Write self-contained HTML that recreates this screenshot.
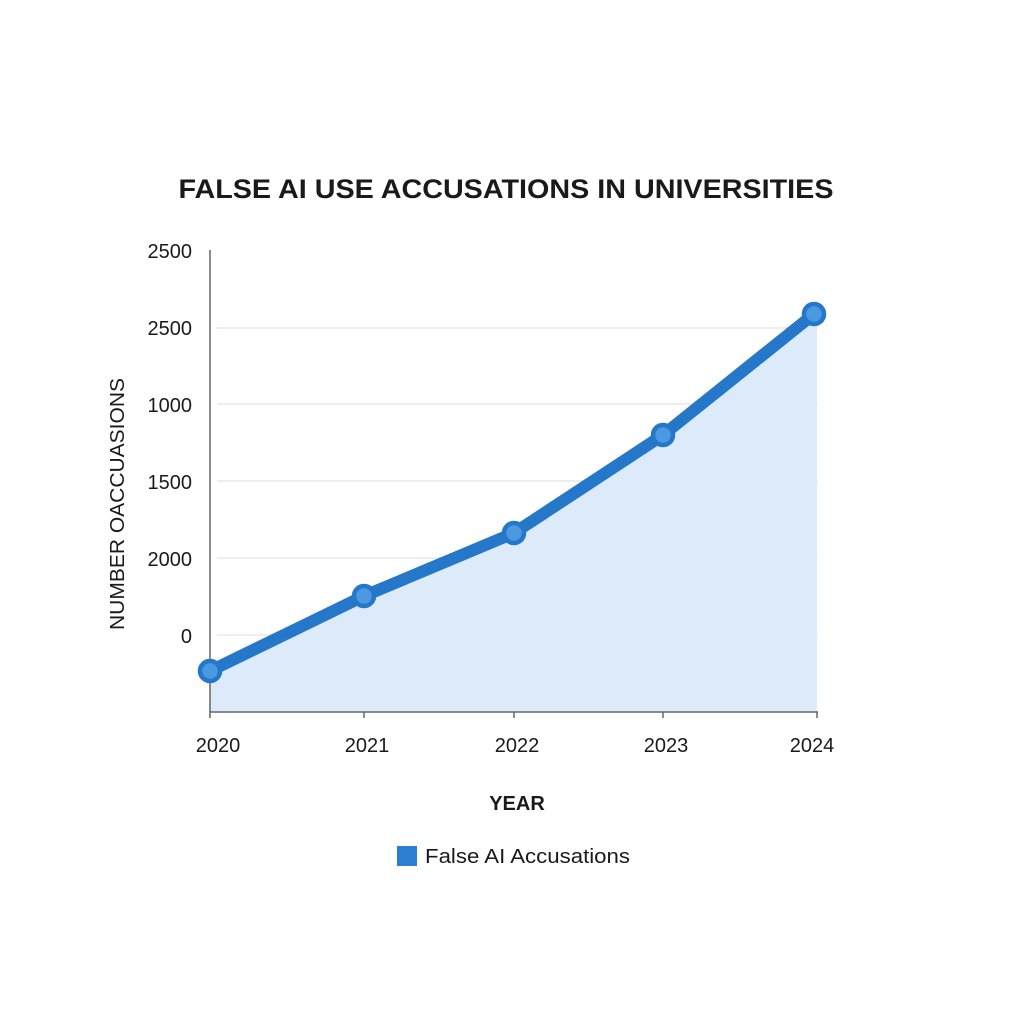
<!DOCTYPE html>
<html><head><meta charset="utf-8"><style>
html,body{margin:0;padding:0;background:#fff;}
svg{display:block;}
text{font-family:"Liberation Sans",sans-serif;fill:#1a1a1a;}
</style></head><body>
<svg width="1024" height="1024" viewBox="0 0 1024 1024" xmlns="http://www.w3.org/2000/svg">
<rect width="1024" height="1024" fill="#fff"/>
<text x="506" y="198" font-size="27" font-weight="bold" text-anchor="middle" textLength="655" lengthAdjust="spacingAndGlyphs">FALSE AI USE ACCUSATIONS IN UNIVERSITIES</text>
<g stroke="#e6e8ec" stroke-width="1.5">
<line x1="217" y1="328" x2="818" y2="328"/>
<line x1="217" y1="404" x2="818" y2="404"/>
<line x1="217" y1="481" x2="818" y2="481"/>
<line x1="217" y1="558" x2="818" y2="558"/>
<line x1="217" y1="635" x2="818" y2="635"/>
</g>
<polygon points="210,671 364,596 514,533 663,435 814,314 817,314 817,712 210,712" fill="#dceafa"/>
<line x1="210" y1="250" x2="210" y2="718" stroke="#666" stroke-width="1.5"/>
<line x1="210" y1="712" x2="818" y2="712" stroke="#666" stroke-width="1.5"/>
<g stroke="#666" stroke-width="1.5">
<line x1="364" y1="712" x2="364" y2="718"/><line x1="514" y1="712" x2="514" y2="718"/>
<line x1="663" y1="712" x2="663" y2="718"/><line x1="817" y1="712" x2="817" y2="718"/>
</g>
<polyline points="210,671 364,596 514,533 663,435 814,314" fill="none" stroke="#2477c9" stroke-width="12" stroke-linejoin="round"/>
<g fill="#4b99e0" stroke="#2477c9" stroke-width="4.5">
<circle cx="210" cy="671" r="10"/><circle cx="364" cy="596" r="10"/><circle cx="514" cy="533" r="10"/><circle cx="663" cy="435" r="10"/><circle cx="814" cy="314" r="10"/>
</g>
<g font-size="20" text-anchor="end">
<text x="192" y="258">2500</text>
<text x="192" y="335">2500</text>
<text x="192" y="412">1000</text>
<text x="192" y="489">1500</text>
<text x="192" y="566">2000</text>
<text x="192" y="643">0</text>
</g>
<text transform="translate(124,504) rotate(-90)" font-size="20" text-anchor="middle" textLength="252" lengthAdjust="spacingAndGlyphs">NUMBER OACCUASIONS</text>
<g font-size="20" text-anchor="middle">
<text x="218" y="752">2020</text>
<text x="367" y="752">2021</text>
<text x="517" y="752">2022</text>
<text x="666" y="752">2023</text>
<text x="812" y="752">2024</text>
</g>
<text x="517" y="810" font-size="20" font-weight="bold" text-anchor="middle">YEAR</text>
<rect x="397" y="846" width="20" height="20" fill="#2a7fd0"/>
<text x="425" y="863" font-size="20" textLength="205" lengthAdjust="spacingAndGlyphs">False AI Accusations</text>
</svg>
</body></html>
